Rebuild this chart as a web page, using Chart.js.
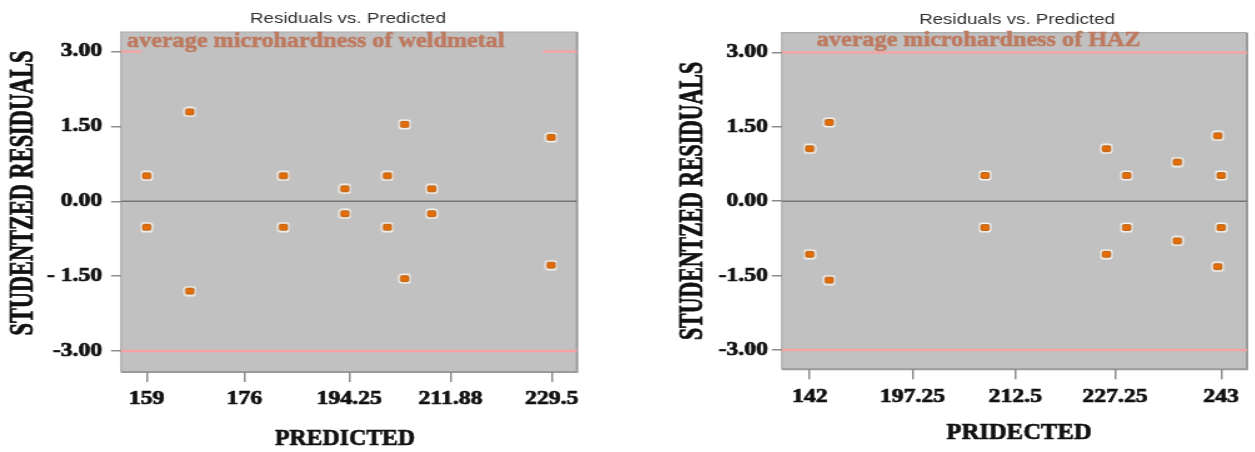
<!DOCTYPE html>
<html><head><meta charset="utf-8">
<script src="https://cdn.jsdelivr.net/npm/chart.js@4.4.1/dist/chart.umd.min.js"></script>
<style>
html,body{margin:0;padding:0;background:#fff;width:1255px;height:452px;overflow:hidden}
.wrap{position:absolute;top:0;width:502px;height:452px;transform:scaleX(1.25);transform-origin:0 0}
canvas{display:block}
</style></head><body>
<div class="wrap" style="left:0"><canvas id="c1" width="502" height="452"></canvas></div>
<div class="wrap" style="left:627px"><canvas id="c2" width="502" height="452"></canvas></div>
<script>
// ---------- data: weld metal ----------
const weldPredicted = [159, 159, 166.5, 166.5, 182.8, 182.8, 193.5, 193.5, 200.9, 200.9, 203.9, 203.9, 208.6, 208.6, 229.4, 229.4];
const weldResiduals = [0.51, -0.52, 1.79, -1.80, 0.51, -0.52, 0.25, -0.25, 0.51, -0.52, 1.54, -1.55, 0.25, -0.25, 1.28, -1.28];
const weldXTicks = [159, 176, 194.25, 211.88, 229.5];
const weldXTickLabels = ["159", "176", "194.25", "211.88", "229.5"];
const weldYTicks = [3, 1.5, 0, -1.5, -3];
const weldYTickLabels = ["3.00", "1.50", "0.00", "- 1.50", "-3.00"];

// ---------- data: HAZ ----------
const hazPredicted = [182, 182, 184.9, 184.9, 208.0, 208.0, 226.0, 226.0, 229.0, 229.0, 236.5, 236.5, 242.5, 242.5, 243, 243];
const hazResiduals = [1.06, -1.07, 1.59, -1.59, 0.52, -0.53, 1.06, -1.07, 0.52, -0.53, 0.79, -0.80, 1.32, -1.32, 0.52, -0.53];
const hazXTicks = [182, 197.25, 212.5, 227.25, 243];
const hazXTickLabels = ["142", "197.25", "212.5", "227.25", "243"]; // first label printed as "142" in the source
const hazYTicks = [3, 1.5, 0, -1.5, -3];
const hazYTickLabels = ["3.00", "1.50", "0.00", "-1.50", "-3.00"];

const limitValues = [3, -3];
const zeroValue = 0;

const SERIF = '"Liberation Serif","Times New Roman",serif';
const SANS = '"Liberation Sans",Arial,sans-serif';

function makeMarker() {
  const c = document.createElement('canvas');
  c.width = 11; c.height = 11;
  const g = c.getContext('2d');
  g.fillStyle = 'rgba(250,246,240,0.95)';
  g.beginPath(); g.roundRect(0.5, 0.5, 10, 10, 2.8); g.fill();
  g.fillStyle = '#e66d05';
  g.strokeStyle = 'rgba(150,70,0,0.8)';
  g.lineWidth = 0.9;
  g.beginPath(); g.roundRect(2.2, 2.6, 6.6, 5.8, 1); g.fill(); g.stroke();
  return c;
}
const marker = makeMarker();

function build(id, o) {
  const pts = o.xs.map((x, i) => ({x: x, y: o.ys[i]}));
  const hline = v => [{x: o.xmin, y: v}, {x: o.xmax, y: v}];
  const plugin = {
    id: 'deco' + id,
    beforeDraw(chart) {
      const a = chart.chartArea, ctx = chart.ctx;
      ctx.save();
      ctx.fillStyle = '#c1c1c1';
      ctx.fillRect(a.left, a.top, a.right - a.left, a.bottom - a.top);
      ctx.strokeStyle = '#9a9a9a'; ctx.lineWidth = 2;
      ctx.beginPath();
      ctx.moveTo(a.left, a.bottom); ctx.lineTo(a.right, a.bottom); ctx.lineTo(a.right, a.top);
      ctx.stroke();
      ctx.strokeStyle = '#ababab'; ctx.lineWidth = 1.2;
      ctx.beginPath();
      ctx.moveTo(a.left, a.bottom); ctx.lineTo(a.left, a.top); ctx.lineTo(a.right, a.top);
      ctx.stroke();
      ctx.restore();
    },
    afterDatasetsDraw(chart) {
      const ctx = chart.ctx, a = chart.chartArea;
      ctx.save();
      if (o.labelBox) {
        ctx.fillStyle = '#c1c1c1';
        ctx.fillRect(o.labelBox[0], a.top + 1, o.labelBox[1] - o.labelBox[0], o.labelBox[2] - a.top - 1);
      }
      ctx.font = 'bold ' + o.labelSize + 'px ' + SERIF;
      ctx.fillStyle = '#bd7a60';
      ctx.strokeStyle = '#bd7a60'; ctx.lineWidth = 0.5;
      ctx.textBaseline = 'alphabetic';
      ctx.textAlign = 'left';
      const w = ctx.measureText(o.label).width;
      ctx.translate(o.labelX, o.labelY);
      ctx.scale(o.labelW / w, 1.08);
      ctx.fillText(o.label, 0, 0);
      ctx.strokeText(o.label, 0, 0);
      ctx.restore();
    },
    afterDraw(chart) {
      const ctx = chart.ctx;
      ctx.save();
      ctx.fillStyle = '#303030';
      ctx.font = '15px ' + SANS;
      ctx.textAlign = 'center'; ctx.textBaseline = 'middle';
      ctx.fillText('Residuals vs. Predicted', o.titleX, o.titleY);
      // x title
      ctx.fillStyle = '#111'; ctx.strokeStyle = '#111'; ctx.lineWidth = 0.6;
      ctx.font = 'bold 20px ' + SERIF;
      let w = ctx.measureText(o.xTitle).width;
      ctx.save();
      ctx.translate(o.xTitleX, o.xTitleY);
      ctx.scale(o.xTitleW / w, 1.2);
      ctx.fillText(o.xTitle, 0, 0);
      ctx.strokeText(o.xTitle, 0, 0);
      ctx.restore();
      // y title
      ctx.font = 'bold 22px ' + SERIF;
      w = ctx.measureText(o.yTitle).width;
      ctx.save();
      ctx.translate(o.yTitleX, o.yTitleY);
      ctx.rotate(-Math.PI / 2);
      ctx.scale(o.yTitleL / w, 1.2);
      ctx.fillText(o.yTitle, 0, 0);
      ctx.strokeText(o.yTitle, 0, 0);
      ctx.restore();
      ctx.restore();
    }
  };
  return new Chart(document.getElementById(id), {
    type: 'scatter',
    data: {
      datasets: [
        {type: 'line', data: hline(limitValues[0]), borderColor: '#f5a3a3', borderWidth: 2.5, pointRadius: 0, order: 3},
        {type: 'line', data: hline(limitValues[1]), borderColor: '#f5a3a3', borderWidth: 2.5, pointRadius: 0, order: 3},
        {type: 'line', data: hline(zeroValue), borderColor: '#767676', borderWidth: 1.6, pointRadius: 0, order: 2},
        {data: pts, pointStyle: marker, pointRadius: 5, order: 1}
      ]
    },
    options: {
      responsive: false, animation: false, devicePixelRatio: 1,
      layout: {padding: {left: 0, right: o.padRight, top: o.padTop, bottom: 0}},
      plugins: {legend: {display: false}, tooltip: {enabled: false}, title: {display: false}},
      scales: {
        x: {
          type: 'linear', min: o.xmin, max: o.xmax,
          afterBuildTicks: s => { s.ticks = o.xTicks.map(v => ({value: v})); },
          afterFit: s => { s.height = o.xAxisH; },
          ticks: {
            autoSkip: false, maxRotation: 0, padding: o.xPad, color: '#111',
            textStrokeColor: '#111', textStrokeWidth: 0.7,
            font: {family: SERIF, weight: 'bold', size: 19},
            callback: v => { const i = o.xTicks.indexOf(v); return i >= 0 ? o.xLabels[i] : ''; }
          },
          grid: {drawOnChartArea: false, drawTicks: true, tickLength: 10, color: '#8c8c8c', lineWidth: 1.5},
          border: {display: false}
        },
        y: {
          type: 'linear', min: o.ymin, max: o.ymax,
          afterBuildTicks: s => { s.ticks = o.yTicks.map(v => ({value: v})); },
          afterFit: s => { s.width = o.yAxisW; },
          ticks: {
            autoSkip: false, padding: o.yPad, color: '#111',
            textStrokeColor: '#111', textStrokeWidth: 0.7,
            font: {family: SERIF, weight: 'bold', size: 19},
            callback: v => { const i = o.yTicks.indexOf(v); return i >= 0 ? o.yLabels[i] : ''; }
          },
          grid: {drawOnChartArea: false, drawTicks: true, tickLength: 8, color: '#8c8c8c', lineWidth: 1.5},
          border: {display: false}
        }
      }
    },
    plugins: [plugin]
  });
}

build('c1', {
  xs: weldPredicted, ys: weldResiduals,
  xmin: 154.53, xmax: 233.9, ymin: -3.42, ymax: 3.39,
  xTicks: weldXTicks, xLabels: weldXTickLabels, yTicks: weldYTicks, yLabels: weldYTickLabels,
  padRight: 40.4, padTop: 32, xAxisH: 80, yAxisW: 96.8, xPad: 6, yPad: 7,
  label: 'average microhardness of weldmetal', labelSize: 19.5, labelX: 101.6, labelY: 47, labelW: 302,
  labelBox: [113.6, 434.4, 55],
  titleX: 278.4, titleY: 18.5,
  xTitle: 'PREDICTED', xTitleX: 276, xTitleY: 438.5, xTitleW: 112,
  yTitle: 'STUDENTZED RESIDUALS', yTitleX: 19, yTitleY: 193, yTitleL: 285
});

build('c2', {
  xs: hazPredicted, ys: hazResiduals,
  xmin: 177.86, xmax: 246.84, ymin: -3.39, ymax: 3.40,
  xTicks: hazXTicks, xLabels: hazXTickLabels, yTicks: hazYTicks, yLabels: hazYTickLabels,
  padRight: 1.2, padTop: 32.7, xAxisH: 82.7, yAxisW: 123.8, xPad: 6, yPad: 3,
  label: 'average microhardness of HAZ', labelSize: 19.5, labelX: 151.8, labelY: 46, labelW: 259,
  labelBox: null,
  titleX: 312, titleY: 20,
  xTitle: 'PRIDECTED', xTitleX: 313.6, xTitleY: 433, xTitleW: 116,
  yTitle: 'STUDENTZED RESIDUALS', yTitleX: 53, yTitleY: 201, yTitleL: 278
});
</script>
</body></html>
